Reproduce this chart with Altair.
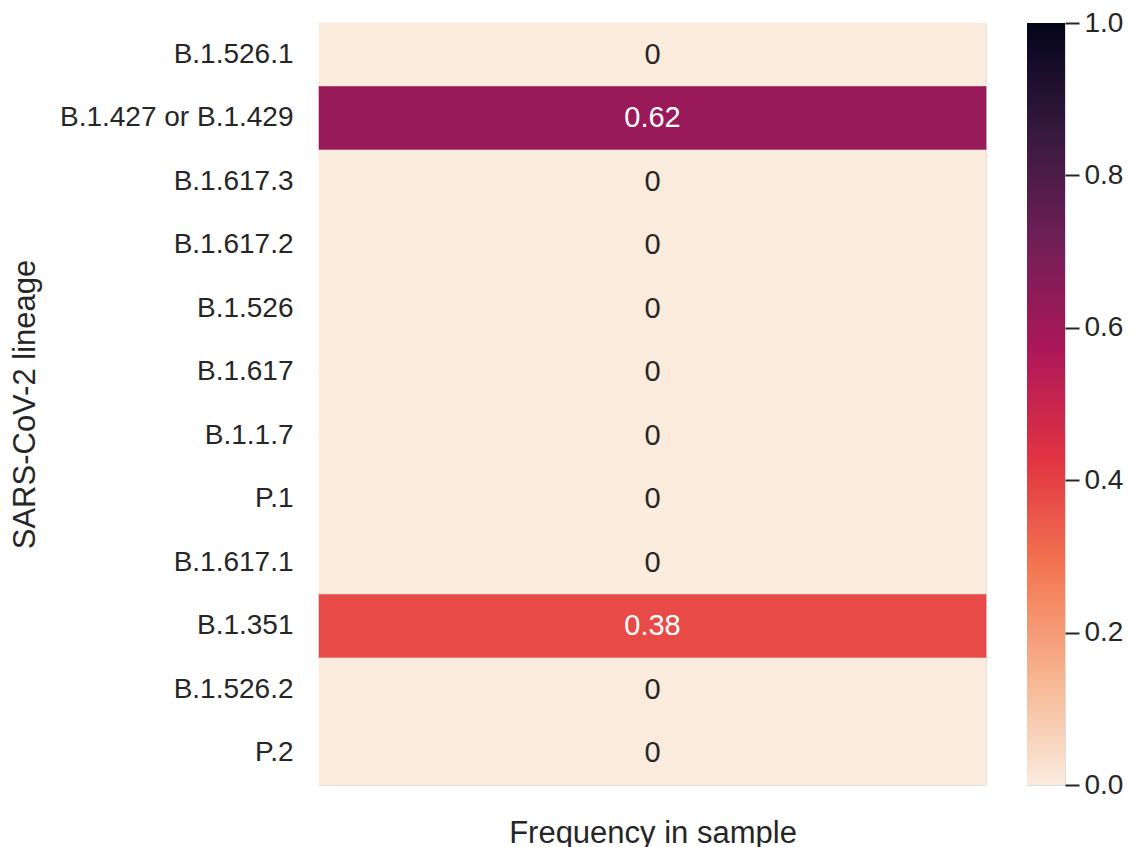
import altair as alt
import pandas as pd

# ---- data ----
lineages = ["B.1.526.1", "B.1.427 or B.1.429", "B.1.617.3", "B.1.617.2", "B.1.526",
            "B.1.617", "B.1.1.7", "P.1", "B.1.617.1", "B.1.351", "B.1.526.2", "P.2"]
freqs = [0, 0.62, 0, 0, 0, 0, 0, 0, 0, 0.38, 0, 0]
annots = ["0", "0.62", "0", "0", "0", "0", "0", "0", "0", "0.38", "0", "0"]
cbar_ticks = [0.0, 0.2, 0.4, 0.6, 0.8, 1.0]

# rocket_r colormap anchor colours
cmap_stops = [0, 1/7, 2/7, 3/7, 4/7, 5/7, 6/7, 1]
cmap_colors = ["#faebdd", "#f6b48f", "#f37651", "#e13342",
               "#ad1759", "#701f57", "#35193e", "#03051a"]

FONT = "Liberation Sans"
TXT = "#262626"

df = pd.DataFrame({"lineage": lineages, "freq": freqs, "annot": annots, "col": [""] * len(lineages)})

color_scale = alt.Scale(domain=cmap_stops, range=cmap_colors, interpolate="rgb")

base = alt.Chart(df).encode(
    y=alt.Y("lineage:N", sort=lineages,
            scale=alt.Scale(paddingInner=0, paddingOuter=0),
            axis=alt.Axis(title="SARS-CoV-2 lineage", titleFontSize=31, titleFont=FONT,
                          titleFontWeight="normal", titleColor=TXT, titleX=-278,
                          labelFontSize=28, labelFont=FONT, labelColor=TXT, labelLimit=500,
                          labelPadding=26, ticks=False, domain=False, grid=False)),
    x=alt.X("col:N", scale=alt.Scale(paddingInner=0, paddingOuter=0),
            axis=alt.Axis(title="Frequency in sample", titleFontSize=31, titleFont=FONT,
                          titleFontWeight="normal", titleColor=TXT, titlePadding=33,
                          labels=False, ticks=False, domain=False, grid=False)),
)

rects = base.mark_rect(strokeWidth=0.6).encode(
    color=alt.Color("freq:Q", scale=color_scale, legend=None),
    stroke=alt.Stroke("freq:Q", scale=color_scale, legend=None),
)
texts = base.mark_text(font=FONT, fontSize=29, baseline="middle").encode(
    text="annot:N",
    color=alt.condition(alt.datum.freq > 0.3, alt.value("white"), alt.value(TXT)),
)
heat = alt.layer(rects, texts).properties(width=667, height=762)

cbar_df = pd.DataFrame({"lo": [0.0], "hi": [1.0]})
cbar = alt.Chart(cbar_df).mark_rect(
    color=alt.Gradient(
        gradient="linear",
        stops=[alt.GradientStop(offset=o, color=c) for o, c in zip(cmap_stops, cmap_colors)],
        x1=0, x2=0, y1=1, y2=0,
    )
).encode(
    x=alt.value(0), x2=alt.value(38),
    y=alt.Y("lo:Q", scale=alt.Scale(domain=[0, 1], nice=False, zero=False),
            axis=alt.Axis(orient="right", values=cbar_ticks, format=".1f", title=None,
                          tickSize=14, tickWidth=2, tickColor=TXT, labelPadding=5,
                          labelFontSize=28, labelFont=FONT, labelColor=TXT,
                          domain=False, grid=False)),
    y2="hi:Q",
).properties(width=38, height=762)

chart = alt.hconcat(heat, cbar, spacing=39,
                    padding={"left": 0, "top": 0, "right": 0, "bottom": 0}
                    ).configure_view(stroke=None).configure(font=FONT)

chart.save("out.html", embed_options={"renderer": "svg", "actions": False})
